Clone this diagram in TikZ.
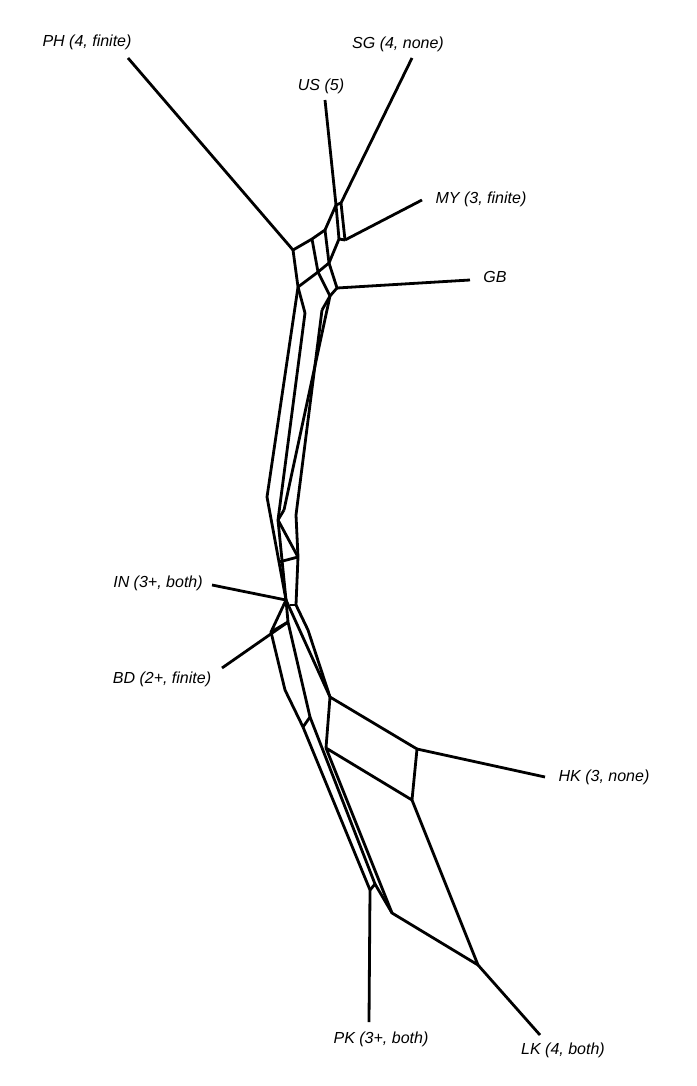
\documentclass[tikz,border=0pt]{standalone}
\usepackage{fontspec}
\setmainfont{Liberation Sans}
\begin{document}
\begin{tikzpicture}[x=1pt,y=-1pt,line width=2.8pt,line join=round,
  lab/.style={font=\fontsize{16}{18}\selectfont\itshape,inner sep=1pt}]
\useasboundingbox (0,0) rectangle (696,1086);
% leaves
\node[lab] (PH) at (87,42) {PH (4, finite)};
\node[lab] (SG) at (398,44) {SG (4, none)};
\node[lab] (US) at (321,86) {US (5)};
\node[lab] (MY) at (481,199) {MY (3, finite)};
\node[lab] (GB) at (495,277) {GB};
\node[lab] (IN) at (158,583) {IN (3+, both)};
\node[lab] (BD) at (162,679) {BD (2+, finite)};
\node[lab] (HK) at (604,777) {HK (3, none)};
\node[lab] (PK) at (381,1039) {PK (3+, both)};
\node[lab] (LK) at (563,1050) {LK (4, both)};
\coordinate (a1) at (293,250); \coordinate (a2) at (312,239);
\coordinate (a3) at (325,230); \coordinate (a4) at (336,205);
\coordinate (a5) at (341,203); \coordinate (b4) at (339,239);
\coordinate (b5) at (345,240); \coordinate (c2) at (318,272);
\coordinate (c3) at (329,263); \coordinate (d1) at (298,287);
\coordinate (d2) at (305,313); \coordinate (d3) at (322,310);
\coordinate (d4) at (337,288); \coordinate (d5) at (330,296);
\draw (128,58) -- (a1);
\draw (412,58) -- (a5);
\draw (325,100) -- (a4);
\draw (422,200) -- (b5);
\draw (470,280) -- (d4);
\draw (a1) -- (a2) -- (a3) -- (a4) -- (a5);
\draw (a4) -- (b4); \draw (a5) -- (b5);
\draw (a1) -- (d1); \draw (a2) -- (c2); \draw (a3) -- (c3);
\draw (b5) -- (b4) -- (c3) -- (c2) -- (d1);
\draw (c3) -- (d4) -- (d5) -- (d3);
\draw (c2) -- (d5);
\draw (d1) -- (d2);
% long strands
\coordinate (e1) at (267,497); \coordinate (e2) at (278,520);
\coordinate (e3) at (296,515); \coordinate (e4) at (284,510);
\draw (d1) -- (e1); \draw (d2) -- (e2); \draw (d3) -- (e3); \draw (d5) -- (e4);
\coordinate (f1) at (279,562); \coordinate (f2) at (298,557);
\coordinate (f3) at (286,600); \coordinate (f4) at (296,605);
\draw (e1) -- (f1) -- (f3); \draw (e2) -- (e4);
\draw (e3) -- (f2) -- (f4); \draw (e2) -- (f2); \draw (f1) -- (f2);
\draw (e2) -- (f3);
\draw (212,585) -- (f3);
% lower middle
\coordinate (g1) at (271,632); \coordinate (g2) at (288,622);
\coordinate (g3) at (290,605); \coordinate (g4) at (308,630);
\coordinate (h1) at (285,690); \coordinate (h2) at (303,727);
\coordinate (h3) at (310,717); \coordinate (h4) at (330,697);
\draw (222,668) -- (g2);
\draw (f3) -- (g1) -- (h1) -- (h2);
\draw (f3) -- (g2) -- (h3);
\draw (f4) -- (g4) -- (h4);
\draw (f3) -- (h4);
\draw (g1) -- (g2);
\draw (g3) -- (f4);
% box
\coordinate (k1) at (417,749); \coordinate (k2) at (412,800);
\coordinate (k3) at (326,748); \coordinate (m1) at (478,965);
\coordinate (m2) at (392,913); \coordinate (p1) at (370,890);
\coordinate (p2) at (375,884);
\draw (h4) -- (k1) -- (k2) -- (k3) -- (h4);
\draw (k1) -- (545,777);
\draw (k2) -- (m1) -- (m2) -- (k3);
\draw (m1) -- (540,1035);
\draw (h2) -- (p1) -- (369,1022);
\draw (h3) -- (p2) -- (p1);
\draw (p2) -- (m2);
\draw (h3) -- (h2);
\end{tikzpicture}
\end{document}
